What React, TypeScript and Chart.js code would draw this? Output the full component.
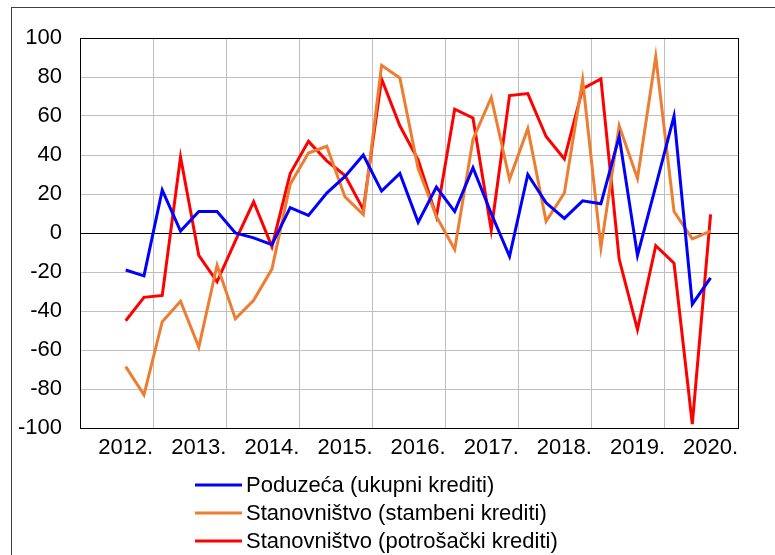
import React, { useEffect, useRef } from "react";
import { Chart, registerables } from "chart.js";

Chart.register(...registerables);

const years = ["2012.", "2013.", "2014.", "2015.", "2016.", "2017.", "2018.", "2019.", "2020."];
const quarters = ["Q1", "Q2", "Q3", "Q4"];
const categories: string[] = years.flatMap((y) => quarters.map((q) => y + " " + q));

const seriesNames = [
  "Poduzeća (ukupni krediti)",
  "Stanovništvo (stambeni krediti)",
  "Stanovništvo (potrošački krediti)",
];
const seriesColors = ["#0000FF", "#ED7D31", "#FF0000"];

const poduzeca = [
  null, null, -19, -22, 22, 1, 11, 11,
  0, -2.5, -6, 13, 9, 20.5, 29, 40,
  21.5, 30.5, 5.5, 23.5, 11, 33.5, 10, -12,
  30, 15.5, 7.5, 16.5, 15, 49.5, -11.5, 24,
  60, -36.5, -23, null,
];
const stambeni = [
  null, null, -68.5, -83, -45.5, -35, -58.5, -16.5,
  -44, -34.5, -18.5, 25, 41, 44.5, 18.5, 9.5,
  86, 79.5, 33, 8.5, -8.5, 48, 69.5, 27.5,
  53.5, 6, 20.5, 78.5, -7.5, 55, 28, 90.5,
  11, -3, 1, null,
];
const potrosacki = [
  null, null, -45, -33, -32, 39, -11.5, -25,
  -4, 16, -7, 30.5, 47, 37, 29.5, 12,
  79, 55, 37.5, 8.5, 63.5, 59, 1.5, 70.5,
  71.5, 49.5, 38, 74, 79, -13.5, -49.5, -6.5,
  -15.5, -98, 9.5, null,
];

const yMin = -100;
const yMax = 100;
const yStep = 20;

const FONT = "'Liberation Sans', Arial, sans-serif";

const framePlugin = {
  id: "framePlugin",
  beforeDraw(chart: any) {
    const ctx = chart.ctx;
    ctx.save();
    ctx.fillStyle = "#ffffff";
    ctx.fillRect(0, 0, chart.width, chart.height);
    ctx.strokeStyle = "#404040";
    ctx.lineWidth = 1;
    ctx.strokeRect(11.5, 7.5, chart.width + 20, chart.height + 20);
    ctx.restore();
  },
  beforeDatasetsDraw(chart: any) {
    const { ctx, chartArea } = chart;
    ctx.save();
    ctx.strokeStyle = "#000000";
    ctx.lineWidth = 1;
    ctx.strokeRect(
      Math.round(chartArea.left) + 0.5,
      Math.round(chartArea.top) + 0.5,
      Math.round(chartArea.right - chartArea.left),
      Math.round(chartArea.bottom - chartArea.top)
    );
    ctx.restore();
  },
  afterDraw(chart: any) {
    const ctx = chart.ctx;
    ctx.save();
    const x0 = 195;
    const x1 = 242;
    const ys = [485, 513, 541];
    ctx.font = "22px " + FONT;
    ctx.textBaseline = "middle";
    ctx.textAlign = "left";
    seriesNames.forEach((name, i) => {
      ctx.strokeStyle = seriesColors[i];
      ctx.lineWidth = 3;
      ctx.beginPath();
      ctx.moveTo(x0, ys[i]);
      ctx.lineTo(x1, ys[i]);
      ctx.stroke();
      ctx.fillStyle = "#000000";
      ctx.fillText(name, 246, ys[i] + 1);
    });
    ctx.restore();
  },
};

export default function App() {
  const canvasRef = useRef<HTMLCanvasElement | null>(null);

  useEffect(() => {
    const canvas = canvasRef.current;
    if (!canvas) return;
    const seriesData = [poduzeca, stambeni, potrosacki];
    const chart = new Chart(canvas, {
      type: "line",
      data: {
        labels: categories,
        datasets: seriesData.map((d, i) => ({
          label: seriesNames[i],
          data: d,
          borderColor: seriesColors[i],
          backgroundColor: seriesColors[i],
          borderWidth: 3,
          pointRadius: 0,
          pointHoverRadius: 0,
          tension: 0,
          fill: false,
          spanGaps: false,
        })),
      },
      options: {
        responsive: false,
        animation: false,
        events: [],
        layout: { padding: { left: 0, top: 38, right: 37, bottom: 87 } },
        plugins: {
          legend: { display: false },
          tooltip: { enabled: false },
          title: { display: false },
        },
        scales: {
          x: {
            type: "category",
            offset: true,
            grid: {
              offset: true,
              drawTicks: false,
              lineWidth: 1,
              color: (ctx: any) =>
                ctx.index !== undefined && ctx.index % 4 === 0 ? "#bfbfbf" : "rgba(0,0,0,0)",
            },
            border: { display: false },
            ticks: {
              autoSkip: false,
              maxRotation: 0,
              minRotation: 0,
              padding: 7,
              color: "#000000",
              font: { family: FONT, size: 22 },
              callback: (value: any, index: number) =>
                index % 4 === 2 ? years[Math.floor(index / 4)] : "",
            },
            afterFit: (scale: any) => {
              scale.height = 40;
            },
          },
          y: {
            min: yMin,
            max: yMax,
            grid: {
              drawTicks: false,
              lineWidth: 1,
              color: (ctx: any) => (ctx.tick && ctx.tick.value === 0 ? "#000000" : "#bfbfbf"),
            },
            border: { display: false },
            ticks: {
              stepSize: yStep,
              padding: 18,
              color: "#000000",
              font: { family: FONT, size: 22 },
            },
            afterFit: (scale: any) => {
              scale.width = 80;
            },
          },
        },
      },
      plugins: [framePlugin],
    });
    return () => chart.destroy();
  }, []);

  return (
    <div style={{ position: "fixed", left: 0, top: 0, width: 775, height: 555, background: "#fff" }}>
      <canvas ref={canvasRef} width={775} height={555} />
    </div>
  );
}
